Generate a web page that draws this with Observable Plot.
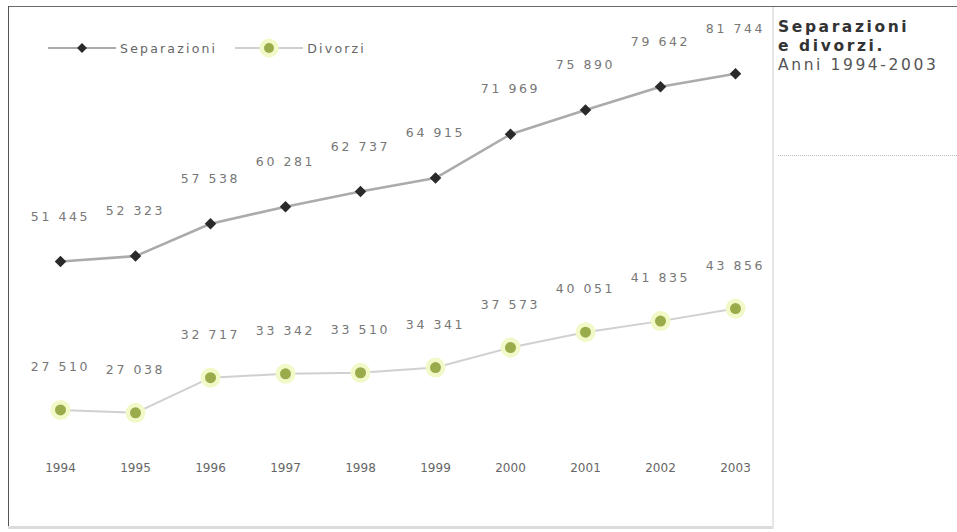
<!DOCTYPE html>
<html>
<head>
<meta charset="utf-8">
<script src="https://cdn.jsdelivr.net/npm/d3@7"></script>
<script src="https://cdn.jsdelivr.net/npm/@observablehq/plot@0.6"></script>
<style>
  html, body { margin: 0; padding: 0; background: #fff; }
  #wrap { position: relative; width: 957px; height: 532px; overflow: hidden; font-family: "DejaVu Sans", sans-serif; }
  #frameTop { position: absolute; left: 8px; top: 6px; width: 949px; height: 1px; background: #6a6a6a; }
  #frameLeft { position: absolute; left: 8px; top: 6px; width: 1px; height: 523px; background: #555; }
  #frameBottom { position: absolute; left: 8px; top: 526px; width: 765px; height: 3px; background: #dcdcdc; }
  #sep { position: absolute; left: 772px; top: 7px; width: 2px; height: 522px; background: #e6e6e6; }
  #chart { position: absolute; left: 9px; top: 7px; }
  #title { position: absolute; left: 778px; top: 18px; font-size: 15.5px; line-height: 19px; color: #555; letter-spacing: 2.6px; white-space: nowrap; }
  #title b { color: #333; }
  #dots { position: absolute; left: 778px; top: 155px; width: 179px; border-top: 1px dotted #bbb; }
  #legend { position: absolute; left: 48px; top: 38px; font-size: 12.5px; color: #666; display: flex; align-items: center; letter-spacing: 2.2px; white-space: nowrap; }
  #legend span { margin-right: 18px; }
</style>
</head>
<body>
<div id="wrap">
  <div id="frameTop"></div>
  <div id="frameLeft"></div>
  <div id="frameBottom"></div>
  <div id="sep"></div>
  <div id="chart"></div>
  <div id="legend"></div>
  <div id="title"><b>Separazioni</b><br><b>e divorzi.</b><br>Anni 1994-2003</div>
  <div id="dots"></div>
</div>
<script>
const years = [1994, 1995, 1996, 1997, 1998, 1999, 2000, 2001, 2002, 2003];
const separazioni = [51445, 52323, 57538, 60281, 62737, 64915, 71969, 75890, 79642, 81744];
const divorzi = [27510, 27038, 32717, 33342, 33510, 34341, 37573, 40051, 41835, 43856];
const seriesNames = ["Separazioni", "Divorzi"];

const fmt = v => d3.format(",")(v).replace(/,/g, " ");

const sepData = years.map((y, i) => ({year: String(y), value: separazioni[i]}));
const divData = years.map((y, i) => ({year: String(y), value: divorzi[i]}));

const W = 764, H = 520;
const chart = Plot.plot({
  width: W,
  height: H,
  marginLeft: 51,
  marginRight: 38,
  marginTop: 15,
  marginBottom: 71,
  style: {background: "transparent", fontFamily: "DejaVu Sans, sans-serif"},
  x: {type: "point", domain: years.map(String), padding: 0},
  y: {domain: [20000, 90000], axis: null},
  marks: [
    Plot.axisX({tickSize: 0, tickPadding: 7, fontSize: 12, color: "#666", label: null}),
    Plot.line(sepData, {x: "year", y: "value", stroke: "#ababab", strokeWidth: 2.6}),
    Plot.line(divData, {x: "year", y: "value", stroke: "#d0d0d0", strokeWidth: 2}),
    Plot.dot(divData, {x: "year", y: "value", r: 10, fill: "#f3f8c8", stroke: "none"}),
    Plot.dot(divData, {x: "year", y: "value", r: 5.5, fill: "#9aab4c", stroke: "none"}),
    Plot.dot(sepData, {x: "year", y: "value", r: 5.2, fill: "#2a2a2a", symbol: "diamond2", stroke: "none"}),
    Plot.text(sepData, {x: "year", y: "value", text: d => fmt(d.value), dy: -45, fontSize: 12.5, fill: "#777", className: "lbl"}),
    Plot.text(divData, {x: "year", y: "value", text: d => fmt(d.value), dy: -43, fontSize: 12.5, fill: "#777", className: "lbl"})
  ]
});
document.getElementById("chart").appendChild(chart);
chart.querySelectorAll(".lbl text").forEach(t => t.style.letterSpacing = "2.6px");

// legend
const leg = document.getElementById("legend");
const sw = (kind) => {
  const s = d3.create("svg").attr("width", 68).attr("height", 20).style("margin-right", "4px");
  s.append("line").attr("x1", 0).attr("x2", 68).attr("y1", 10).attr("y2", 10)
    .attr("stroke", kind === 0 ? "#ababab" : "#d0d0d0").attr("stroke-width", 2);
  if (kind === 0) {
    s.append("rect").attr("x", 30.5).attr("y", 6.5).attr("width", 7).attr("height", 7)
      .attr("transform", "rotate(45 34 10)").attr("fill", "#2a2a2a");
  } else {
    s.append("circle").attr("cx", 34).attr("cy", 10).attr("r", 9.5).attr("fill", "#f3f8c8");
    s.append("circle").attr("cx", 34).attr("cy", 10).attr("r", 5).attr("fill", "#9aab4c");
  }
  return s.node();
};
seriesNames.forEach((name, i) => {
  leg.appendChild(sw(i));
  const t = document.createElement("span");
  t.textContent = name;
  leg.appendChild(t);
});
</script>
</body>
</html>
